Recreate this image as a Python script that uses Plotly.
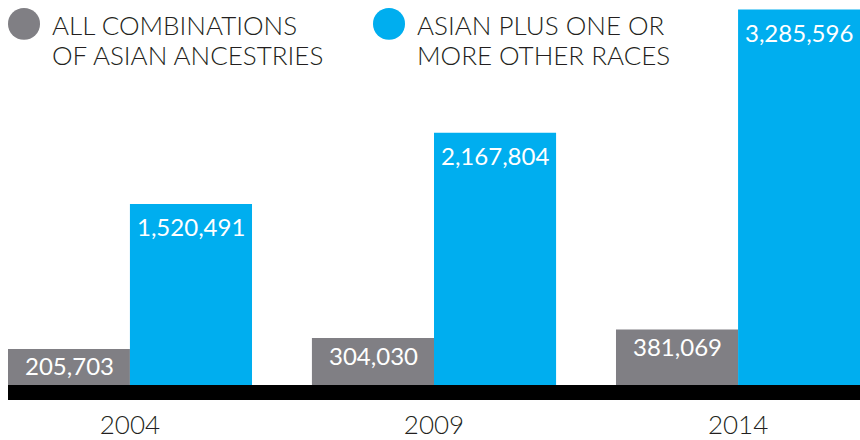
import plotly.graph_objects as go

years = ["2004", "2009", "2014"]
all_combinations = [205703, 304030, 381069]
asian_plus_other = [1520491, 2167804, 3285596]
legend_lines = [["ALL COMBINATIONS", "OF ASIAN ANCESTRIES"], ["ASIAN PLUS ONE OR", "MORE OTHER RACES"]]

GRAY = "#807f84"
BLUE = "#00aeef"
TEXT = "#231f20"
FONT = "Lato"

W, H = 860, 440
ML, MR, MT, MB = 8, 0, 0, 38
PW, PH = W - ML - MR, H - MT - MB

PAD = 258200      # visual extension of bars below zero (hidden under the base band)
YTOP = 3371400

def fmt(v):
    return f"{v:,}"

fig = go.Figure()
series = [(all_combinations, GRAY), (asian_plus_other, BLUE)]
for vals, col in series:
    fig.add_trace(go.Bar(
        x=years, y=[v + PAD for v in vals], base=-PAD,
        marker=dict(color=col, line=dict(width=0)),
        hoverinfo="skip", showlegend=False,
    ))

annotations = []
offsets = [-0.2, 0.2]
shifts = [-17, -23]
for (vals, col), off, sh in zip(series, offsets, shifts):
    for i, v in enumerate(vals):
        annotations.append(dict(
            x=i + off, y=v, xref="x", yref="y", text=fmt(v), showarrow=False,
            xanchor="center", yanchor="middle", yshift=sh,
            font=dict(family=FONT, size=24, color="white"),
        ))

def px_x(p):
    return (p - ML) / PW

def px_y(p):
    return (H - MB - p) / PH

# legend text
for lines, lx in zip(legend_lines, [50, 415]):
    for line, ly in zip(lines, [25, 55]):
        annotations.append(dict(
            x=px_x(lx), y=px_y(ly), xref="paper", yref="paper", text=line,
            showarrow=False, xanchor="left", yanchor="middle", align="left",
            font=dict(family=FONT, size=26, color=TEXT, weight=300),
        ))

shapes = [
    dict(type="rect", xref="paper", yref="paper", x0=0, x1=1, y0=0, y1=15 / PH,
         fillcolor="black", line=dict(width=0), layer="above"),
]
for cx, col in [(24, GRAY), (389, BLUE)]:
    shapes.append(dict(type="circle", xref="paper", yref="paper",
                       x0=px_x(cx - 16), x1=px_x(cx + 16), y0=px_y(40), y1=px_y(8),
                       fillcolor=col, line=dict(width=0)))

fig.update_layout(
    width=W, height=H,
    margin=dict(l=ML, r=MR, t=MT, b=MB, pad=0),
    paper_bgcolor="white", plot_bgcolor="white",
    barmode="group", bargap=0.197, bargroupgap=0,
    showlegend=False,
    xaxis=dict(type="category", range=[-0.401, 2.401], showgrid=False, zeroline=False,
               showline=False, ticks="", ticklabelstandoff=7,
               tickfont=dict(family=FONT, size=26, color=TEXT, weight=300)),
    yaxis=dict(range=[-PAD, YTOP], visible=False),
    annotations=annotations, shapes=shapes,
)

fig.write_html("out.html", config={"displayModeBar": False},
               post_script="document.body.style.margin='0';document.body.style.overflow='hidden';")
